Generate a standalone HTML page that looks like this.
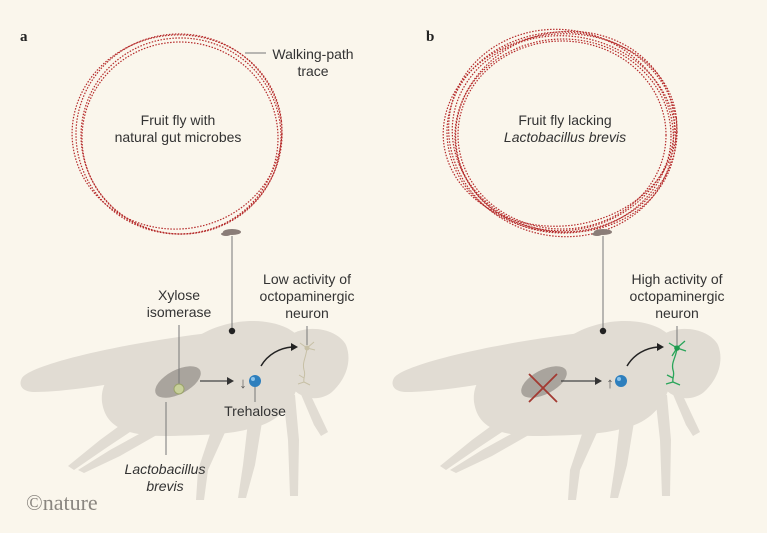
<!DOCTYPE html>
<html><head><style>
html,body{margin:0;padding:0;background:#faf6ec;}
svg{display:block;}
text{font-family:"Liberation Sans",sans-serif;}
</style></head><body>
<svg width="767" height="533" viewBox="0 0 767 533" xmlns="http://www.w3.org/2000/svg">
<rect width="767" height="533" fill="#faf6ec"/>
<defs>
<g id="fly" fill="#e1dcd3">
  <path d="M22,378 C30,365 120,342 235,330 C250,332 250,352 230,362 C160,375 80,392 35,392 C22,392 18,385 22,378Z"/>
  <path d="M102,402 C98,365 150,345 200,335 C225,320 262,316 287,328 C302,336 306,345 302,362 C300,398 282,422 252,428 C230,435 200,435 170,436 C118,437 105,422 102,402Z"/>
  <path d="M290,335 C310,323 338,330 346,345 C352,360 347,378 332,392 C320,402 300,400 291,386 C284,370 283,345 290,335Z"/>
  <path d="M213,425 L198,470 L196,500 L204,500 L208,470 L227,428Z"/>
  <path d="M248,422 L243,465 L238,498 L246,498 L255,465 L262,422Z"/>
  <path d="M283,395 L288,440 L290,496 L298,496 L299,440 L295,395Z"/>
  <path d="M300,392 L314,425 L321,436 L328,432 L312,398Z"/>
  <path d="M130,418 L100,440 L68,466 L74,470 L106,448 L142,424Z"/>
  <path d="M150,428 L110,450 L78,470 L84,473 L120,456 L162,432Z"/>
</g>
</defs>
<use href="#fly"/>
<use href="#fly" transform="translate(372,0)"/>

<text x="20" y="41" font-size="15" font-weight="bold" style="font-family:'Liberation Serif',serif;fill:#222">a</text>
<text x="426" y="41" font-size="15" font-weight="bold" style="font-family:'Liberation Serif',serif;fill:#222">b</text>

<g fill="none" stroke="#b52a2a" stroke-width="1.2" stroke-dasharray="1.5 1.5">
  <ellipse cx="179" cy="134" rx="103" ry="100"/>
  <ellipse cx="181" cy="136" rx="100" ry="98" transform="rotate(8 181 136)"/>
  <ellipse cx="177" cy="132" rx="105" ry="97" transform="rotate(-6 177 132)"/>
  <ellipse cx="180" cy="138" rx="98" ry="96"/>
</g>
<g fill="none" stroke="#b52a2a" stroke-width="1.2" stroke-dasharray="1.5 1.5">
  <ellipse cx="562" cy="132" rx="115" ry="100"/>
  <ellipse cx="564" cy="134" rx="112" ry="98" transform="rotate(8 564 134)"/>
  <ellipse cx="560" cy="130" rx="117" ry="96" transform="rotate(-6 560 130)"/>
  <ellipse cx="563" cy="136" rx="108" ry="97"/>
  <ellipse cx="561" cy="133" rx="113" ry="103" transform="rotate(15 561 133)"/>
  <ellipse cx="565" cy="131" rx="110" ry="99" transform="rotate(-14 565 131)"/>
  <ellipse cx="562" cy="135" rx="104" ry="94"/>
</g>
<g style="fill:#333">
<text x="178" y="125" font-size="14" text-anchor="middle">Fruit fly with</text>
<text x="178" y="142" font-size="14" text-anchor="middle">natural gut microbes</text>
<text x="565" y="125" font-size="14" text-anchor="middle">Fruit fly lacking</text>
<text x="565" y="142" font-size="14" text-anchor="middle" font-style="italic">Lactobacillus brevis</text>
<text x="313" y="59" font-size="14" text-anchor="middle">Walking-path</text>
<text x="313" y="76" font-size="14" text-anchor="middle">trace</text>
</g>
<line x1="245" y1="53" x2="266" y2="53" stroke="#777" stroke-width="1"/>

<g fill="#8a7d78">
  <ellipse cx="232" cy="232" rx="9" ry="3"/>
  <ellipse cx="226" cy="234" rx="5" ry="2"/>
  <ellipse cx="603" cy="232" rx="9" ry="3"/>
  <ellipse cx="597" cy="234" rx="5" ry="2"/>
</g>
<line x1="232" y1="236" x2="232" y2="331" stroke="#777" stroke-width="1"/>
<circle cx="232" cy="331" r="3.2" fill="#222"/>
<line x1="603" y1="236" x2="603" y2="331" stroke="#777" stroke-width="1"/>
<circle cx="603" cy="331" r="3.2" fill="#222"/>

<ellipse cx="178" cy="382" rx="25" ry="12" fill="#a9a49d" transform="rotate(-28 178 382)"/>
<line x1="179" y1="325" x2="179" y2="385" stroke="#777" stroke-width="1"/>
<circle cx="179" cy="389" r="5" fill="#c8d09a" stroke="#9aa36a" stroke-width="1"/>
<line x1="166" y1="402" x2="166" y2="455" stroke="#777" stroke-width="1"/>
<line x1="200" y1="381" x2="228" y2="381" stroke="#444" stroke-width="1.2"/>
<path d="M227,377 L234,381 L227,385Z" fill="#333"/>
<text x="243" y="388" font-size="15" text-anchor="middle" style="fill:#555">↓</text>
<line x1="255" y1="386" x2="255" y2="402" stroke="#777" stroke-width="1"/>
<circle cx="255" cy="381" r="6" fill="#2e7fbd"/>
<circle cx="253" cy="379" r="2" fill="#8cc4ea"/>
<path d="M261,366 C268,354 280,348 292,347" fill="none" stroke="#222" stroke-width="1.5"/>
<path d="M291,343 L298,347 L291,351Z" fill="#222"/>
<line x1="307" y1="326" x2="307" y2="345" stroke="#777" stroke-width="1"/>
<g stroke="#c7c0a6" stroke-width="1" fill="none">
  <path d="M307,348 C306,358 302,362 304,370 C306,375 303,378 304,382"/>
  <path d="M307,348 L300,343 M307,348 L314,342 M307,348 L315,350 M304,382 L298,384 M304,382 L310,385 M304,378 L299,375"/>
</g>
<circle cx="307" cy="348" r="2.5" fill="#c7c0a6"/>
<g style="fill:#333">
<text x="179" y="300" font-size="14" text-anchor="middle">Xylose</text>
<text x="179" y="317" font-size="14" text-anchor="middle">isomerase</text>
<text x="165" y="474" font-size="14" text-anchor="middle" font-style="italic">Lactobacillus</text>
<text x="165" y="491" font-size="14" text-anchor="middle" font-style="italic">brevis</text>
<text x="255" y="416" font-size="14" text-anchor="middle">Trehalose</text>
<text x="307" y="284" font-size="14" text-anchor="middle">Low activity of</text>
<text x="307" y="301" font-size="14" text-anchor="middle">octopaminergic</text>
<text x="307" y="318" font-size="14" text-anchor="middle">neuron</text>
<text x="677" y="284" font-size="14" text-anchor="middle">High activity of</text>
<text x="677" y="301" font-size="14" text-anchor="middle">octopaminergic</text>
<text x="677" y="318" font-size="14" text-anchor="middle">neuron</text>
</g>

<ellipse cx="544" cy="382" rx="25" ry="12" fill="#a9a49d" transform="rotate(-28 544 382)"/>
<g stroke="#a33a32" stroke-width="1.8">
  <line x1="529" y1="374" x2="557" y2="402"/>
  <line x1="557" y1="374" x2="529" y2="402"/>
</g>
<line x1="561" y1="381" x2="596" y2="381" stroke="#444" stroke-width="1.2"/>
<path d="M595,377 L602,381 L595,385Z" fill="#333"/>
<text x="610" y="388" font-size="15" text-anchor="middle" style="fill:#555">↑</text>
<circle cx="621" cy="381" r="6" fill="#2e7fbd"/>
<circle cx="619" cy="379" r="2" fill="#8cc4ea"/>
<path d="M627,366 C634,354 646,348 658,347" fill="none" stroke="#222" stroke-width="1.5"/>
<path d="M657,343 L664,347 L657,351Z" fill="#222"/>
<line x1="677" y1="326" x2="677" y2="345" stroke="#777" stroke-width="1"/>
<g stroke="#2aa55a" stroke-width="1.3" fill="none">
  <path d="M677,348 C676,358 671,362 673,370 C675,375 672,378 673,382"/>
  <path d="M677,348 L669,343 M677,348 L685,341 M677,348 L686,351 M677,348 L672,356 M673,382 L666,384 M673,382 L680,385 M673,378 L667,375"/>
</g>
<circle cx="677" cy="348" r="2.8" fill="#1e9a4e"/>

<text x="26" y="510" font-size="22" style="font-family:'Liberation Serif',serif;fill:#8a8680">©nature</text>
</svg>
</body></html>
